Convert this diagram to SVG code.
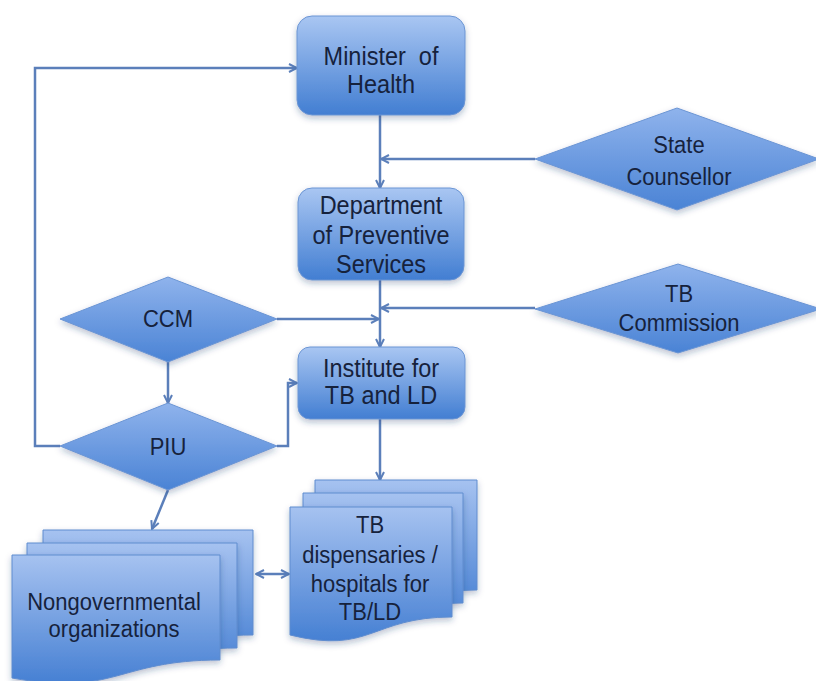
<svg xmlns="http://www.w3.org/2000/svg" width="816" height="681" viewBox="0 0 816 681">
  <defs>
    <linearGradient id="gBox" x1="0" y1="0" x2="0" y2="1">
      <stop offset="0" stop-color="#a9c6f2"/>
      <stop offset="1" stop-color="#427ed2"/>
    </linearGradient>
    <linearGradient id="gDia" x1="0" y1="0" x2="0" y2="1">
      <stop offset="0" stop-color="#8fb3ec"/>
      <stop offset="1" stop-color="#4a83d5"/>
    </linearGradient>
    <linearGradient id="gDoc" x1="0" y1="0" x2="0" y2="1">
      <stop offset="0" stop-color="#a6c2f0"/>
      <stop offset="1" stop-color="#4680d3"/>
    </linearGradient>
    <filter id="shadow" x="-10%" y="-10%" width="120%" height="130%">
      <feDropShadow dx="0" dy="3" stdDeviation="3" flood-color="#1d3a6b" flood-opacity="0.3"/>
    </filter>
    <marker id="arrow" viewBox="0 0 10 10" refX="9" refY="5" markerWidth="10" markerHeight="10" markerUnits="userSpaceOnUse" orient="auto-start-reverse">
      <path d="M1,1 L9,5 L1,9" fill="none" stroke="#5b7fba" stroke-width="2"/>
    </marker>
    <style>
      .box { fill: url(#gBox); stroke: #6b95d4; stroke-width: 1; filter: url(#shadow); }
      .dia { fill: url(#gDia); stroke: #6b95d4; stroke-width: 1; filter: url(#shadow); }
      .doc { fill: url(#gDoc); stroke: #5f8ccf; stroke-width: 1; filter: url(#shadow); }
      .lbl { font-family: "Liberation Sans", Arial, sans-serif; fill: #16223c; text-anchor: middle; }
      .big { font-size: 23.5px; }
      .mid { font-size: 22px; }
      .conn { fill: none; stroke: #5b7fba; stroke-width: 2.5; }
      .arr { marker-end: url(#arrow); }
    </style>
  </defs>

  <!-- connectors -->
  <g id="connectors">
    <path class="conn arr" d="M380,115 V188"/>
    <path class="conn arr" d="M380,280 V347"/>
    <path class="conn arr" d="M535,159 H381"/>
    <path class="conn arr" d="M535,308 H381"/>
    <path class="conn arr" d="M277,319 H379"/>
    <path class="conn arr" d="M168,362 V403"/>
    <path class="conn arr" d="M277,446 H288 V383 H297"/>
    <path class="conn arr" d="M60,446 H35 V68 H297"/>
    <path class="conn arr" d="M380,419 V480"/>
    <path class="conn arr" d="M168,490 L152,529"/>
    <path class="conn arr" d="M256,574 H289" marker-start="url(#arrow)"/>
  </g>

  <!-- text is drawn slightly tall: matrix(1 0 0 1.12 x baseline) -->

  <!-- Minister of Health -->
  <g id="minister">
    <rect class="box" x="297" y="16" width="168" height="99" rx="15"/>
    <text class="lbl big" transform="matrix(1 0 0 1.12 381 65)" xml:space="preserve">Minister  of</text>
    <text class="lbl big" transform="matrix(1 0 0 1.12 381 93)">Health</text>
  </g>

  <!-- State Counsellor -->
  <g id="state-counsellor">
    <polygon class="dia" points="535,159 677,108 819,159 677,210"/>
    <text class="lbl mid" transform="matrix(1 0 0 1.12 679 153)">State</text>
    <text class="lbl mid" transform="matrix(1 0 0 1.12 679 185)">Counsellor</text>
  </g>

  <!-- Department of Preventive Services -->
  <g id="department">
    <rect class="box" x="298" y="188" width="166" height="92" rx="14"/>
    <text class="lbl big" transform="matrix(1 0 0 1.12 381 214)">Department</text>
    <text class="lbl big" transform="matrix(1 0 0 1.12 381 244)">of Preventive</text>
    <text class="lbl big" transform="matrix(1 0 0 1.12 381 273)">Services</text>
  </g>

  <!-- TB Commission -->
  <g id="tb-commission">
    <polygon class="dia" points="535,309 678,264 821,309 678,353"/>
    <text class="lbl mid" transform="matrix(1 0 0 1.12 679 302)">TB</text>
    <text class="lbl mid" transform="matrix(1 0 0 1.12 679 331)">Commission</text>
  </g>

  <!-- CCM -->
  <g id="ccm">
    <polygon class="dia" points="60,319 168,277 277,319 168,362"/>
    <text class="lbl mid" transform="matrix(1 0 0 1.12 168 327)">CCM</text>
  </g>

  <!-- Institute for TB and LD -->
  <g id="institute">
    <rect class="box" x="298" y="347" width="167" height="72" rx="12"/>
    <text class="lbl big" transform="matrix(1 0 0 1.12 381 377)">Institute for</text>
    <text class="lbl big" transform="matrix(1 0 0 1.12 381 404)">TB and LD</text>
  </g>

  <!-- PIU -->
  <g id="piu">
    <polygon class="dia" points="60,446 168,403 277,446 168,490"/>
    <text class="lbl mid" transform="matrix(1 0 0 1.12 168 455)">PIU</text>
  </g>

  <!-- TB dispensaries / hospitals (stacked documents) -->
  <g id="tb-dispensaries">
    <path class="doc" d="M315,480 H477 V590 C396,590 396,628 315,608 Z"/>
    <path class="doc" d="M303,493 H463 V603 C383,603 383,641 303,621 Z"/>
    <path class="doc" d="M290,507 H452 V617 C371,617 371,655 290,635 Z"/>
    <text class="lbl mid" transform="matrix(1 0 0 1.12 370 533)">TB</text>
    <text class="lbl mid" transform="matrix(1 0 0 1.12 370 563)">dispensaries /</text>
    <text class="lbl mid" transform="matrix(1 0 0 1.12 370 592)">hospitals for</text>
    <text class="lbl mid" transform="matrix(1 0 0 1.12 370 620)">TB/LD</text>
  </g>

  <!-- Nongovernmental organizations (stacked documents) -->
  <g id="ngo">
    <path class="doc" d="M43,530 H253 V635 C148,635 148,672 43,653 Z"/>
    <path class="doc" d="M27,543 H237 V648 C132,648 132,685 27,666 Z"/>
    <path class="doc" d="M12,555 H220 V660 C116,660 116,697 12,678 Z"/>
    <text class="lbl mid" transform="matrix(1 0 0 1.12 114 610)">Nongovernmental</text>
    <text class="lbl mid" transform="matrix(1 0 0 1.12 114 637)">organizations</text>
  </g>
</svg>
